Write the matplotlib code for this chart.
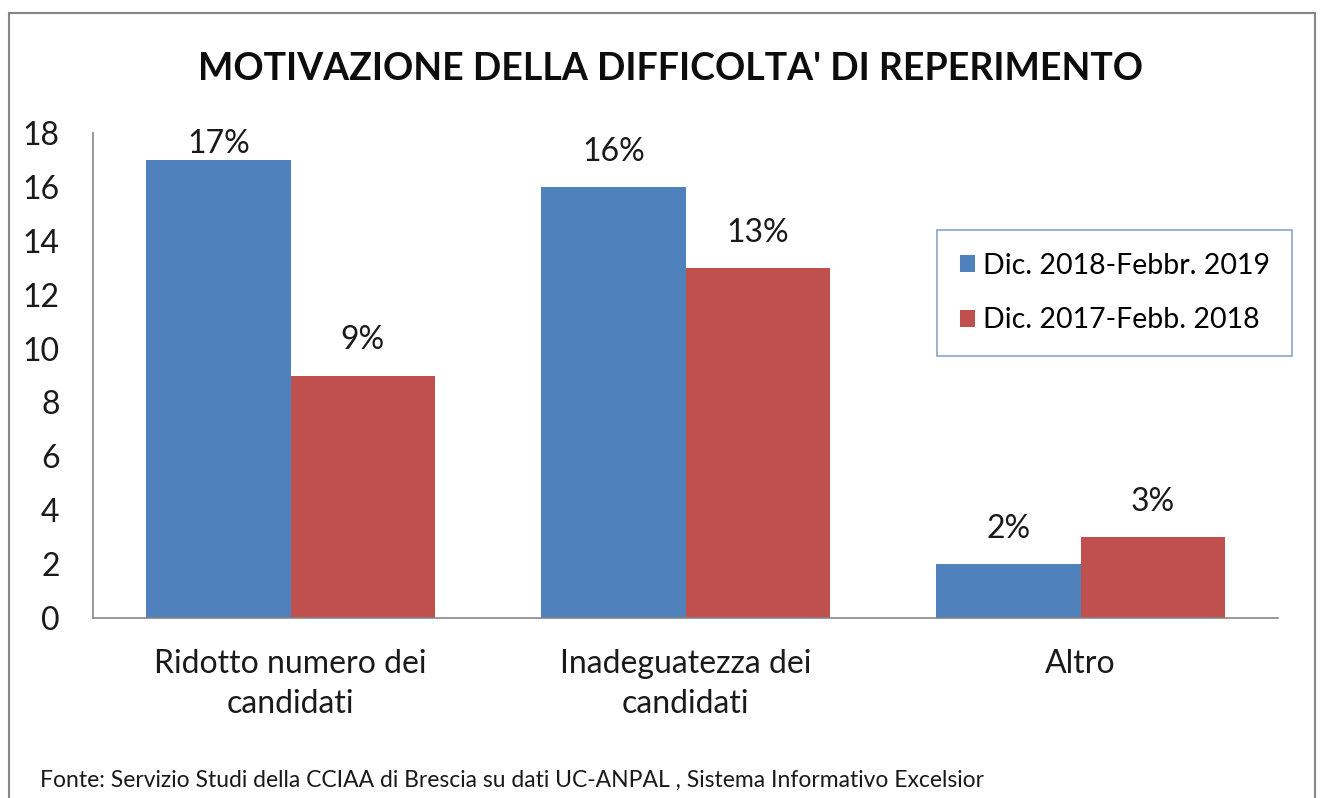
import matplotlib.pyplot as plt
import numpy as np
from matplotlib.patches import Rectangle

categories = ["Ridotto numero dei\ncandidati", "Inadeguatezza dei\ncandidati", "Altro"]
series_names = ["Dic. 2018-Febbr. 2019", "Dic. 2017-Febb. 2018"]
values_2019 = [17, 16, 2]
values_2018 = [9, 13, 3]
yticks = [0, 2, 4, 6, 8, 10, 12, 14, 16, 18]

BLUE = "#4F81BD"
RED = "#C0504D"
GREY = "#868686"

plt.rcParams["font.family"] = ["Lato", "DejaVu Sans"]

fig = plt.figure(figsize=(13.23, 7.98), dpi=100)
ax = fig.add_axes([93 / 1323, 1 - 618 / 798, 1185 / 1323, 485 / 798])

x = np.arange(len(categories))
w = 0.365
b1 = ax.bar(x - w / 2, values_2019, w, color=BLUE, label=series_names[0])
b2 = ax.bar(x + w / 2, values_2018, w, color=RED, label=series_names[1])

for bars, vals in ((b1, values_2019), (b2, values_2018)):
    for bar, v in zip(bars, vals):
        ax.text(bar.get_x() + bar.get_width() / 2, min(v + 1.3, 17.6), f"{v}%",
                ha="center", va="center", fontsize=23, color="#1a1a1a")

ax.set_xlim(-0.5, 2.5)
ax.set_ylim(0, 18)
ax.set_yticks(yticks)
ax.set_xticks(x)
ax.set_xticklabels(categories, fontsize=23, color="#1a1a1a", linespacing=1.45)
ax.tick_params(axis="y", length=0, pad=24, labelsize=23, labelcolor="#1a1a1a")
ax.tick_params(axis="x", length=0, pad=22)
for s in ("top", "right"):
    ax.spines[s].set_visible(False)
for s in ("left", "bottom"):
    ax.spines[s].set_color(GREY)
    ax.spines[s].set_linewidth(1.2)

leg = ax.legend(loc="upper left", bbox_to_anchor=((937 - 93) / 1185, (618 - 230) / 485),
                fontsize=20.5, frameon=True, fancybox=False, handlelength=0.55,
                handleheight=0.55, handletextpad=0.25, labelspacing=1.0,
                borderpad=0.8, borderaxespad=0)
leg.get_frame().set_edgecolor("#6C8EBF")
leg.get_frame().set_linewidth(1.2)

fig.text(670 / 1323, 1 - 69 / 798, "MOTIVAZIONE DELLA DIFFICOLTA' DI REPERIMENTO",
         ha="center", va="center", fontsize=27, fontweight="bold", color="#0d0d0d")
fig.text(40 / 1323, 1 - 780 / 798,
         "Fonte: Servizio Studi della CCIAA di Brescia su dati UC-ANPAL , Sistema Informativo Excelsior",
         ha="left", va="center", fontsize=16.5, color="#1a1a1a")

fig.patches.append(Rectangle((9 / 1323, -0.05), 1306 / 1323, 1.05 - 13 / 798,
                             transform=fig.transFigure, fill=False,
                             edgecolor=GREY, linewidth=1.5))

fig.savefig("out.png", dpi=100)
